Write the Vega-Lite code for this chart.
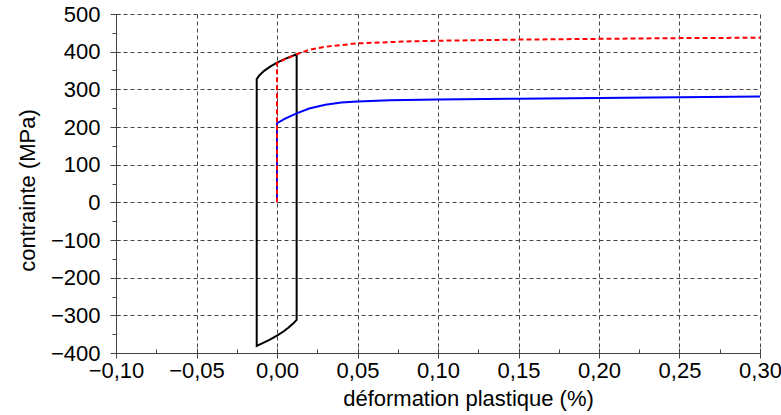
{
  "$schema": "https://vega.github.io/schema/vega-lite/v6.json",
  "autosize": {"type": "none"},
  "width": 644,
  "height": 339,
  "padding": {"left": 116, "top": 14, "right": 21, "bottom": 62},
  "background": "white",
  "config": {
    "view": {"stroke": null},
    "axis": {"labelFont": "Liberation Sans", "titleFont": "Liberation Sans", "labelFontSize": 22, "titleFontSize": 22, "titleFontWeight": "normal", "labelColor": "#000", "titleColor": "#000", "domainColor": "#444", "tickColor": "#444", "gridColor": "#444", "gridDash": [4, 3], "gridWidth": 1}
  },
  "data": {"values": [
    {"s": "loop", "o": 1, "x": 0.0122, "y": 393},
    {"s": "loop", "o": 2, "x": 0.0122, "y": -312},
    {"s": "loop", "o": 3, "x": 0.010, "y": -322},
    {"s": "loop", "o": 4, "x": 0.007, "y": -333},
    {"s": "loop", "o": 5, "x": 0.004, "y": -343},
    {"s": "loop", "o": 6, "x": 0.000, "y": -354},
    {"s": "loop", "o": 7, "x": -0.005, "y": -366},
    {"s": "loop", "o": 8, "x": -0.0126, "y": -381},
    {"s": "loop", "o": 9, "x": -0.0126, "y": 327},
    {"s": "loop", "o": 10, "x": -0.011, "y": 337},
    {"s": "loop", "o": 11, "x": -0.008, "y": 349},
    {"s": "loop", "o": 12, "x": -0.004, "y": 361},
    {"s": "loop", "o": 13, "x": 0.000, "y": 371},
    {"s": "loop", "o": 14, "x": 0.005, "y": 381},
    {"s": "loop", "o": 15, "x": 0.0122, "y": 393},
    {"s": "blue", "o": 1, "x": 0, "y": 0},
    {"s": "blue", "o": 2, "x": 0, "y": 210},
    {"s": "blue", "o": 3, "x": 0.005, "y": 222},
    {"s": "blue", "o": 4, "x": 0.0122, "y": 236},
    {"s": "blue", "o": 5, "x": 0.02, "y": 249},
    {"s": "blue", "o": 6, "x": 0.03, "y": 259},
    {"s": "blue", "o": 7, "x": 0.04, "y": 265},
    {"s": "blue", "o": 8, "x": 0.05, "y": 268},
    {"s": "blue", "o": 9, "x": 0.07, "y": 271},
    {"s": "blue", "o": 10, "x": 0.10, "y": 273},
    {"s": "blue", "o": 11, "x": 0.15, "y": 275},
    {"s": "blue", "o": 12, "x": 0.20, "y": 277},
    {"s": "blue", "o": 13, "x": 0.25, "y": 279},
    {"s": "blue", "o": 14, "x": 0.30, "y": 281},
    {"s": "red", "o": 1, "x": 0, "y": 0},
    {"s": "red", "o": 2, "x": 0, "y": 370},
    {"s": "red", "o": 3, "x": 0.005, "y": 380},
    {"s": "red", "o": 4, "x": 0.0122, "y": 393},
    {"s": "red", "o": 5, "x": 0.02, "y": 405},
    {"s": "red", "o": 6, "x": 0.03, "y": 413},
    {"s": "red", "o": 7, "x": 0.05, "y": 422},
    {"s": "red", "o": 8, "x": 0.08, "y": 427},
    {"s": "red", "o": 9, "x": 0.10, "y": 429},
    {"s": "red", "o": 10, "x": 0.15, "y": 432},
    {"s": "red", "o": 11, "x": 0.20, "y": 434},
    {"s": "red", "o": 12, "x": 0.25, "y": 436},
    {"s": "red", "o": 13, "x": 0.30, "y": 437}
  ]},
  "resolve": {"axis": {"x": "independent", "y": "independent"}},
  "layer": [
    {
      "transform": [{"filter": "datum.s === 'loop'"}],
      "mark": {"type": "line", "color": "#000", "strokeWidth": 2},
      "encoding": {
        "x": {"field": "x", "type": "quantitative", "scale": {"domain": [-0.1, 0.3], "nice": false, "zero": false},
          "axis": {"orient": "bottom", "title": "déformation plastique (%)", "values": [-0.1, -0.05, 0, 0.05, 0.1, 0.15, 0.2, 0.25, 0.3], "labelExpr": "replace(replace(format(datum.value, '.2f'), '.', ','), '-', '−')", "tickSize": 5, "labelPadding": 2, "labelFlush": false, "titleX": 352, "titleY": 45, "titleBaseline": "middle", "titleAlign": "center"}},
        "y": {"field": "y", "type": "quantitative", "scale": {"domain": [-400, 500], "nice": false, "zero": false},
          "axis": {"orient": "left", "title": "contrainte (MPa)", "values": [-400, -300, -200, -100, 0, 100, 200, 300, 400, 500], "labelExpr": "replace(format(datum.value, 'd'), '-', '−')", "tickSize": 6, "labelPadding": 10, "titleX": -89, "titleY": 176, "titleAngle": -90, "titleBaseline": "middle", "titleAlign": "center"}},
        "order": {"field": "o", "type": "quantitative"}
      }
    },
    {
      "transform": [{"filter": "datum.s === 'blue'"}],
      "mark": {"type": "line", "color": "#0000ff", "strokeWidth": 2},
      "encoding": {
        "x": {"field": "x", "type": "quantitative", "scale": {"domain": [-0.1, 0.3], "nice": false, "zero": false},
          "axis": {"orient": "bottom", "values": [-0.075, -0.025, 0.025, 0.075, 0.125, 0.175, 0.225, 0.275], "labels": false, "grid": false, "tickSize": -4, "domain": false, "title": null}},
        "y": {"field": "y", "type": "quantitative", "scale": {"domain": [-400, 500], "nice": false, "zero": false},
          "axis": {"orient": "left", "values": [-350, -250, -150, -50, 50, 150, 250, 350, 450], "labels": false, "grid": false, "tickSize": 4, "domain": false, "title": null}},
        "order": {"field": "o", "type": "quantitative"}
      }
    },
    {
      "transform": [{"filter": "datum.s === 'red'"}],
      "mark": {"type": "line", "color": "#ff0000", "strokeWidth": 2, "strokeDash": [5, 3]},
      "encoding": {
        "x": {"field": "x", "type": "quantitative", "scale": {"domain": [-0.1, 0.3], "nice": false, "zero": false},
          "axis": {"orient": "bottom", "values": [-0.1, -0.05, 0, 0.05, 0.1, 0.15, 0.2, 0.25, 0.3], "labels": false, "grid": false, "tickSize": -5, "domain": false, "title": null}},
        "y": {"field": "y", "type": "quantitative", "scale": {"domain": [-400, 500], "nice": false, "zero": false},
          "axis": {"orient": "left", "values": [-400, -300, -200, -100, 0, 100, 200, 300, 400, 500], "labels": false, "grid": false, "tickSize": -4, "domain": false, "title": null}},
        "order": {"field": "o", "type": "quantitative"}
      }
    }
  ]
}
